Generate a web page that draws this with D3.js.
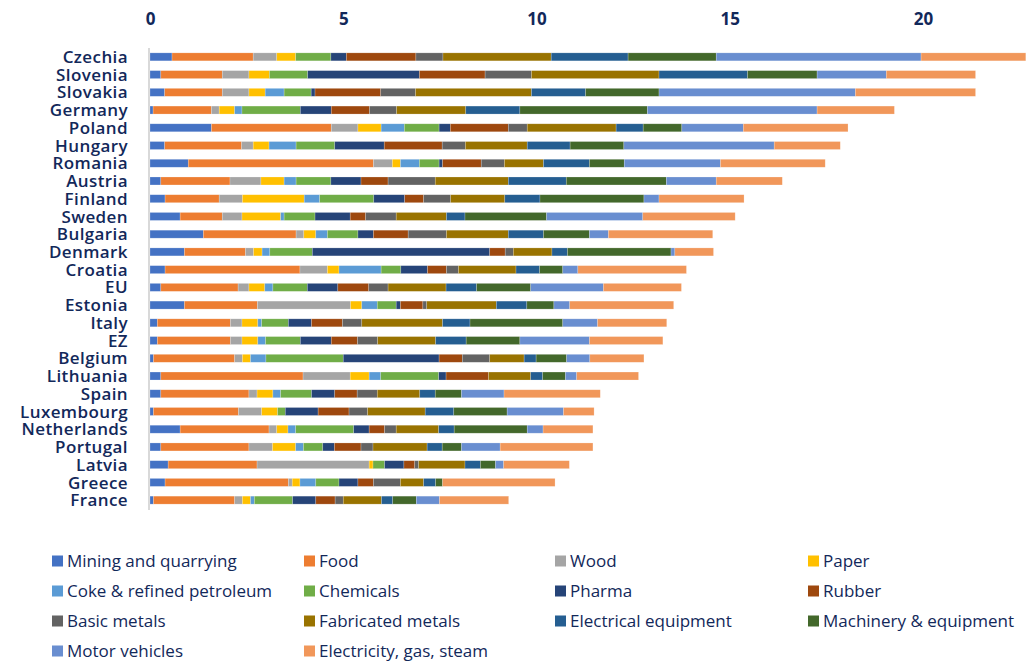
<!DOCTYPE html>
<html>
<head>
<meta charset="utf-8">
<script src="https://cdn.jsdelivr.net/npm/d3@7"></script>
<style>
  body { margin: 0; background: #fff; }
  svg text { font-family: "Open Sans", "Lato", sans-serif; fill: #12285a; }
</style>
</head>
<body>
<svg id="chart" width="1033" height="662"></svg>
<script>
// countries, top to bottom
var countries = ["Czechia", "Slovenia", "Slovakia", "Germany", "Poland", "Hungary", "Romania", "Austria",
  "Finland", "Sweden", "Bulgaria", "Denmark", "Croatia", "EU", "Estonia", "Italy", "EZ", "Belgium",
  "Lithuania", "Spain", "Luxembourg", "Netherlands", "Portugal", "Latvia", "Greece", "France"]

var sectors = ["Mining and quarrying", "Food", "Wood", "Paper", "Coke & refined petroleum", "Chemicals",
  "Pharma", "Rubber", "Basic metals", "Fabricated metals", "Electrical equipment", "Machinery & equipment",
  "Motor vehicles", "Electricity, gas, steam"]

var colors = ["#4472C4", "#ED7D31", "#A5A5A5", "#FFC000", "#5B9BD5", "#70AD47", "#264478", "#9E480E",
  "#636363", "#997300", "#255E91", "#43682B", "#698ED0", "#F1975A"]

var xTicks = [0, 5, 10, 15, 20]

// one array per sector, values in country order
var mining      = [0.57, 0.28, 0.38, 0.08, 1.59, 0.38, 0.99, 0.28, 0.39, 0.78, 1.38, 0.89, 0.39, 0.28, 0.89, 0.19, 0.19, 0.09, 0.28, 0.28, 0.09, 0.78, 0.28, 0.47, 0.39, 0.09]
var food        = [2.10, 1.59, 1.49, 1.51, 3.10, 1.99, 4.79, 1.79, 1.40, 1.09, 2.40, 1.58, 3.49, 2.00, 1.89, 1.89, 1.89, 2.10, 3.68, 2.28, 2.20, 2.30, 2.28, 2.30, 3.19, 2.10]
var wood        = [0.61, 0.69, 0.69, 0.20, 0.69, 0.30, 0.49, 0.80, 0.60, 0.51, 0.20, 0.21, 0.71, 0.28, 2.41, 0.30, 0.30, 0.20, 1.22, 0.21, 0.60, 0.20, 0.61, 2.90, 0.10, 0.20]
var paper       = [0.49, 0.53, 0.42, 0.40, 0.60, 0.41, 0.21, 0.60, 1.60, 1.00, 0.31, 0.22, 0.30, 0.41, 0.29, 0.41, 0.41, 0.21, 0.49, 0.41, 0.41, 0.29, 0.60, 0.10, 0.20, 0.21]
var coke        = [0.00, 0.00, 0.49, 0.19, 0.60, 0.70, 0.49, 0.31, 0.40, 0.09, 0.30, 0.20, 1.09, 0.21, 0.40, 0.10, 0.20, 0.40, 0.30, 0.20, 0.00, 0.20, 0.20, 0.00, 0.41, 0.10]
var chemicals   = [0.91, 0.99, 0.70, 1.51, 0.90, 1.00, 0.51, 0.90, 1.40, 0.80, 0.79, 1.10, 0.51, 0.89, 0.49, 0.69, 0.90, 2.00, 1.50, 0.80, 0.20, 1.50, 0.50, 0.30, 0.60, 0.99]
var pharma      = [0.40, 2.89, 0.10, 0.80, 0.29, 1.28, 0.09, 0.78, 0.80, 0.91, 0.40, 4.59, 0.69, 0.79, 0.11, 0.60, 0.80, 2.48, 0.19, 0.60, 0.85, 0.40, 0.30, 0.50, 0.49, 0.60]
var rubber      = [1.80, 1.70, 1.70, 0.99, 1.50, 1.50, 1.00, 0.70, 0.49, 0.40, 0.90, 0.40, 0.49, 0.80, 0.58, 0.80, 0.68, 0.60, 1.10, 0.58, 0.80, 0.40, 0.69, 0.28, 0.40, 0.50]
var basicMetals = [0.70, 1.20, 0.90, 0.70, 0.49, 0.60, 0.60, 1.22, 0.70, 0.79, 0.99, 0.21, 0.31, 0.50, 0.10, 0.50, 0.52, 0.71, 0.00, 0.52, 0.48, 0.30, 0.31, 0.10, 0.70, 0.21]
var fabMetals   = [2.80, 3.30, 3.00, 1.79, 2.30, 1.60, 1.01, 1.89, 1.40, 1.30, 1.60, 1.00, 1.49, 1.50, 1.80, 2.09, 1.50, 0.89, 1.09, 1.10, 1.49, 1.10, 1.40, 1.20, 0.60, 0.99]
var electrical  = [1.99, 2.29, 1.40, 1.40, 0.70, 1.11, 1.19, 1.50, 0.91, 0.48, 0.91, 0.40, 0.61, 0.79, 0.79, 0.71, 0.79, 0.31, 0.31, 0.40, 0.74, 0.40, 0.39, 0.40, 0.31, 0.29]
var machinery   = [2.28, 1.80, 1.90, 3.30, 1.00, 1.39, 0.90, 2.59, 2.69, 2.11, 1.19, 2.68, 0.60, 1.40, 0.70, 2.40, 1.39, 0.79, 0.59, 0.68, 1.38, 1.89, 0.50, 0.39, 0.18, 0.61]
var motor       = [5.30, 1.79, 5.08, 4.39, 1.59, 3.89, 2.49, 1.29, 0.39, 2.49, 0.49, 0.10, 0.39, 1.88, 0.41, 0.90, 1.80, 0.60, 0.29, 1.10, 1.46, 0.41, 1.00, 0.21, 0.00, 0.60]
var electricity = [2.71, 2.31, 3.11, 2.00, 2.71, 1.71, 2.71, 1.71, 2.20, 2.39, 2.70, 1.00, 2.81, 2.02, 2.69, 1.79, 1.90, 1.40, 1.60, 2.49, 0.79, 1.29, 2.40, 1.70, 2.91, 1.79]

var series = [mining, food, wood, paper, coke, chemicals, pharma, rubber, basicMetals, fabMetals,
  electrical, machinery, motor, electricity]

// build rows for d3.stack
var rows = countries.map(function (c, i) {
  var r = { country: c }
  sectors.forEach(function (s, j) { r[s] = series[j][i] })
  return r
})

var stacked = d3.stack().keys(sectors)(rows)

var svg = d3.select("#chart")

var x = d3.scaleLinear().domain([0, 20]).range([150, 923])
var y = d3.scaleBand().domain(countries).range([48, 509]).paddingInner(0.55).paddingOuter(0.275)
var color = d3.scaleOrdinal().domain(sectors).range(colors)

// vertical baseline
svg.append("line")
  .attr("x1", x(0) - 1).attr("x2", x(0) - 1)
  .attr("y1", 48).attr("y2", 510)
  .attr("stroke", "#d9d9d9")
  .attr("stroke-width", 2)

// top axis, labels only
var xAxis = svg.append("g")
  .attr("transform", "translate(0,25)")
  .call(d3.axisTop(x).tickValues(xTicks).tickSize(0).tickPadding(0))
xAxis.select(".domain").remove()
xAxis.selectAll("text")
  .attr("font-family", null)
  .style("font-size", "17px")
  .style("font-weight", "700")

// bars
svg.append("g")
  .selectAll("g")
  .data(stacked)
  .join("g")
    .attr("fill", function (d) { return color(d.key) })
  .selectAll("rect")
  .data(function (d) { return d })
  .join("rect")
    .attr("x", function (d) { return x(d[0]) })
    .attr("y", function (d) { return y(d.data.country) })
    .attr("width", function (d) { return Math.max(0, x(d[1]) - x(d[0])) })
    .attr("height", y.bandwidth())
    .attr("stroke", "#fff")
    .attr("stroke-opacity", 0.35)
    .attr("stroke-width", 0.6)

// country labels
svg.append("g")
  .selectAll("text")
  .data(countries)
  .join("text")
    .attr("x", 128)
    .attr("y", function (d) { return y(d) + y.bandwidth() / 2 })
    .attr("dy", "0.36em")
    .attr("text-anchor", "end")
    .style("font-size", "17px")
    .style("font-weight", "600")
    .style("letter-spacing", "0.4px")
    .text(function (d) { return d })

// legend, 4 columns
var legX = [52, 304, 555, 808]
var legend = svg.append("g")
  .selectAll("g")
  .data(sectors)
  .join("g")
    .attr("transform", function (d, i) {
      return "translate(" + legX[i % 4] + "," + (561 + Math.floor(i / 4) * 30) + ")"
    })

legend.append("rect")
  .attr("x", 0).attr("y", -5.5)
  .attr("width", 11).attr("height", 11)
  .attr("fill", function (d) { return color(d) })

legend.append("text")
  .attr("x", 15)
  .attr("dy", "0.36em")
  .style("font-size", "17px")
  .style("font-weight", "500")
  .text(function (d) { return d })
</script>
</body>
</html>
